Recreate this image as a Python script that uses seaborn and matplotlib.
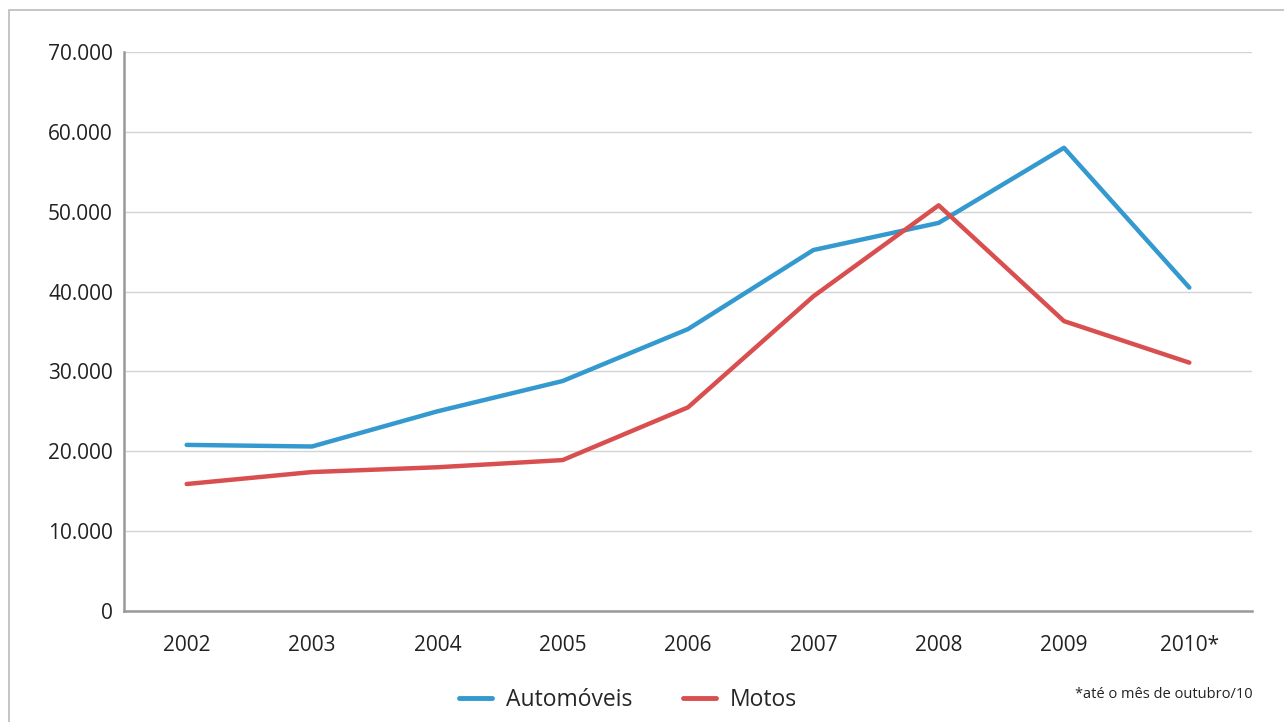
import matplotlib
matplotlib.use("Agg")
import matplotlib.pyplot as plt
import seaborn as sns
import pandas as pd
from matplotlib.ticker import FuncFormatter
from matplotlib.patches import Rectangle
from matplotlib.lines import Line2D

# Data
anos = ["2002", "2003", "2004", "2005", "2006", "2007", "2008", "2009", "2010*"]
automoveis = [20800, 20600, 25000, 28800, 35300, 45200, 48600, 58000, 40500]
motos = [15900, 17400, 18000, 18900, 25500, 39400, 50800, 36300, 31100]

df = pd.DataFrame({"ano": anos * 2,
                   "valor": automoveis + motos,
                   "serie": ["Automóveis"] * len(anos) + ["Motos"] * len(anos)})

sns.set_style("white")
plt.rcParams["font.family"] = ["Open Sans", "DejaVu Sans"]

fig = plt.figure(figsize=(12.84, 7.22), dpi=100)
ax = fig.add_axes([124 / 1284, 1 - 611 / 722, (1252 - 124) / 1284, (611 - 52) / 722])

sns.lineplot(data=df, x="ano", y="valor", hue="serie", sort=False,
             palette={"Automóveis": "#3399CF", "Motos": "#D94F4F"},
             linewidth=3.2, ax=ax, legend=False)

ax.set_ylim(0, 70000)
ax.set_xlim(-0.5, len(anos) - 0.5)
ax.set_yticks(range(0, 70001, 10000))
ax.yaxis.set_major_formatter(FuncFormatter(lambda v, p: f"{int(v):,}".replace(",", ".")))
ax.grid(axis="y", color="#d4d4d4", linewidth=1)
ax.set_axisbelow(True)
ax.set_xlabel("")
ax.set_ylabel("")
for s in ["top", "right"]:
    ax.spines[s].set_visible(False)
for s in ["left", "bottom"]:
    ax.spines[s].set_color("#999999")
    ax.spines[s].set_linewidth(1.8)
ax.tick_params(axis="both", length=0, labelsize=15, colors="#222222")
ax.tick_params(axis="y", pad=8)
ax.tick_params(axis="x", pad=17)

# legend
handles = [Line2D([], [], color="#3399CF", lw=3.5), Line2D([], [], color="#D94F4F", lw=3.5)]
fig.legend(handles, ["Automóveis", "Motos"], loc="center", bbox_to_anchor=(628 / 1284, 1 - 700 / 722),
           ncol=2, frameon=False, fontsize=16.5, handlelength=1.45, columnspacing=2.2, handletextpad=0.6)

fig.text(1253 / 1284, 1 - 694 / 722, "*até o mês de outubro/10", ha="right", va="center",
         fontsize=10.5, color="#222222")

# outer frame
fig.patches.append(Rectangle((9 / 1284, -0.05), 1.2, 1 - 10 / 722 + 0.05, transform=fig.transFigure,
                             fill=False, edgecolor="#bbbbbb", linewidth=1.2))

fig.savefig("out.png", dpi=100)
